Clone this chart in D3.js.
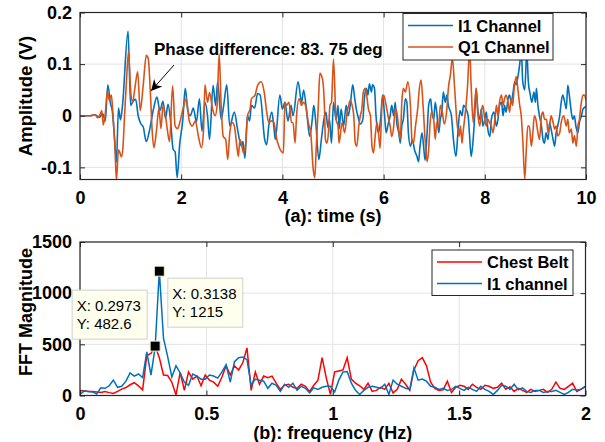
<!DOCTYPE html>
<html>
<head>
<meta charset="utf-8">
<script src="https://cdnjs.cloudflare.com/ajax/libs/d3/7.8.5/d3.min.js"></script>
<style>
body { margin: 0; background: #fff; }
svg { display: block; font-family: Arial, "Liberation Sans", sans-serif; }
</style>
</head>
<body>
<svg width="605" height="442"></svg>
<script>
// (a) time domain: [time (s), amplitude (V)]
var i1Samples = [[0,0],[0.2,0],[0.3,0.002],[0.38,-0.003],[0.45,0.004],[0.5,-0.01],[0.55,0.06],[0.6,0.025],[0.64,0.008],[0.68,-0.04],[0.72,-0.09],[0.76,0.015],[0.8,-0.008],[0.84,0.02],[0.95,0.164],[1.0,0.02],[1.05,0.028],[1.1,0.032],[1.15,0.0],[1.2,-0.015],[1.25,-0.022],[1.31,-0.05],[1.37,-0.03],[1.45,0.012],[1.52,0.036],[1.58,0.01],[1.64,0.028],[1.69,-0.005],[1.74,0.022],[1.79,-0.01],[1.84,-0.065],[1.88,-0.07],[1.92,-0.12],[1.97,-0.055],[2.03,-0.01],[2.08,0.053],[2.13,0.01],[2.18,0.0],[2.24,0.015],[2.3,-0.012],[2.36,0.033],[2.41,-0.03],[2.47,0.026],[2.52,0.0],[2.56,-0.046],[2.63,0.059],[2.68,0.02],[2.72,0.066],[2.79,-0.007],[2.84,0.02],[2.9,0.06],[2.96,-0.02],[3.05,0.007],[3.12,-0.03],[3.19,-0.059],[3.22,-0.05],[3.26,-0.082],[3.31,0.0],[3.35,-0.01],[3.39,0.02],[3.45,0.015],[3.51,0.043],[3.56,0.04],[3.65,-0.046],[3.69,-0.056],[3.73,-0.02],[3.79,0.007],[3.83,-0.02],[3.86,-0.046],[3.95,0.04],[4.0,0.013],[4.05,0.026],[4.11,-0.01],[4.17,0.02],[4.21,0.0],[4.31,0.066],[4.38,0.026],[4.42,0.05],[4.48,0.007],[4.54,-0.04],[4.59,-0.007],[4.62,0.02],[4.66,-0.013],[4.72,-0.085],[4.77,-0.046],[4.82,-0.007],[4.86,0.007],[4.9,-0.023],[4.93,-0.007],[4.97,-0.053],[5.01,0.026],[5.06,-0.007],[5.1,0.02],[5.12,-0.026],[5.16,0.013],[5.21,-0.02],[5.26,0.02],[5.3,0.0],[5.34,0.02],[5.39,0.06],[5.43,0.033],[5.46,0.013],[5.49,0.0],[5.54,-0.016],[5.59,-0.007],[5.62,0.033],[5.66,0.053],[5.69,0.04],[5.72,0.062],[5.76,0.046],[5.78,0.06],[5.82,0.053],[5.85,0.0],[5.9,-0.033],[5.94,-0.007],[5.98,0.04],[6.02,0.0],[6.05,-0.033],[6.09,-0.016],[6.13,0.0],[6.16,0.02],[6.2,0.0],[6.23,0.026],[6.26,-0.013],[6.3,-0.033],[6.33,-0.053],[6.36,-0.02],[6.39,-0.007],[6.43,0.033],[6.46,0.026],[6.49,-0.033],[6.53,-0.059],[6.57,-0.046],[6.61,-0.066],[6.66,-0.079],[6.69,-0.089],[6.72,-0.059],[6.76,-0.033],[6.79,-0.059],[6.82,-0.086],[6.86,-0.033],[6.89,0.02],[6.93,0.033],[6.95,0.013],[6.99,-0.007],[7.02,0.026],[7.05,0.007],[7.09,-0.033],[7.12,-0.007],[7.15,0.007],[7.18,0.046],[7.22,0.026],[7.25,0.04],[7.28,0.02],[7.34,0.0],[7.38,-0.046],[7.43,-0.079],[7.47,-0.03],[7.51,0.01],[7.55,0.0],[7.58,0.02],[7.62,0.015],[7.67,0.0],[7.7,-0.04],[7.73,-0.079],[7.77,-0.046],[7.8,0.0],[7.83,0.053],[7.86,0.013],[7.9,-0.007],[7.93,0.013],[7.96,-0.02],[8.0,-0.007],[8.03,0.007],[8.06,-0.026],[8.1,-0.04],[8.13,-0.007],[8.18,0.007],[8.23,-0.02],[8.26,-0.007],[8.29,0.02],[8.33,0.026],[8.36,0.0],[8.39,0.02],[8.42,0.007],[8.46,0.033],[8.49,0.04],[8.52,0.026],[8.56,0.046],[8.59,0.066],[8.62,0.06],[8.65,0.073],[8.69,0.1],[8.72,0.13],[8.75,0.066],[8.79,0.05],[8.83,0.125],[8.86,0.066],[8.9,0.04],[8.93,0.026],[8.97,0.046],[9.0,0.026],[9.02,0.053],[9.05,0.02],[9.08,0.0],[9.12,-0.02],[9.15,-0.046],[9.18,-0.053],[9.21,-0.033],[9.25,-0.046],[9.28,-0.013],[9.31,-0.026],[9.35,-0.046],[9.38,-0.059],[9.41,-0.033],[9.44,-0.02],[9.48,0.0],[9.51,0.026],[9.54,0.04],[9.58,0.026],[9.61,0.013],[9.64,0.059],[9.67,0.04],[9.71,0.007],[9.74,-0.007],[9.77,0.0],[9.8,-0.02],[9.84,-0.033],[9.87,-0.013],[9.91,0.0],[9.94,0.013],[9.97,0.016],[10,0.018]];

var q1Samples = [[0,0],[0.2,0],[0.3,0.002],[0.35,-0.004],[0.4,0.003],[0.43,0.01],[0.46,-0.018],[0.5,0.005],[0.54,0.047],[0.58,0.03],[0.62,0.04],[0.65,0.005],[0.69,-0.06],[0.72,-0.125],[0.76,-0.066],[0.79,-0.072],[0.82,-0.08],[0.85,-0.06],[0.88,0.0],[0.92,0.07],[0.96,0.125],[1.0,0.05],[1.04,0.026],[1.08,0.05],[1.14,0.085],[1.19,0.01],[1.25,0.06],[1.31,0.117],[1.35,0.11],[1.39,0.046],[1.43,-0.035],[1.46,-0.062],[1.51,-0.03],[1.56,0.015],[1.6,-0.025],[1.64,0.02],[1.69,0.0],[1.73,-0.03],[1.77,-0.05],[1.83,0.058],[1.88,-0.02],[1.93,-0.025],[1.98,-0.01],[2.04,0.015],[2.1,0.033],[2.16,-0.01],[2.22,-0.02],[2.28,-0.01],[2.34,-0.04],[2.4,-0.062],[2.44,-0.03],[2.47,0.06],[2.52,0.026],[2.56,0.045],[2.62,0.013],[2.67,0.0],[2.71,0.02],[2.75,0.12],[2.79,0.02],[2.83,-0.04],[2.88,-0.046],[2.92,-0.085],[2.96,-0.033],[3.01,-0.013],[3.05,-0.02],[3.1,-0.059],[3.13,-0.079],[3.16,-0.046],[3.19,-0.053],[3.23,-0.072],[3.27,-0.059],[3.31,0.0],[3.36,0.013],[3.39,0.033],[3.46,0.04],[3.51,0.059],[3.58,0.066],[3.64,0.046],[3.69,0.007],[3.73,-0.013],[3.79,-0.01],[3.83,-0.013],[3.89,-0.046],[3.93,-0.059],[4.02,-0.072],[4.05,0.026],[4.08,0.02],[4.13,0.026],[4.18,-0.013],[4.21,-0.013],[4.25,-0.053],[4.28,0.0],[4.33,0.033],[4.38,0.02],[4.41,0.026],[4.46,0.02],[4.51,-0.013],[4.56,-0.033],[4.61,-0.105],[4.64,-0.12],[4.67,-0.059],[4.71,0.02],[4.74,0.082],[4.79,0.072],[4.83,0.02],[4.85,-0.046],[4.88,-0.053],[4.91,-0.033],[4.94,0.02],[4.97,0.026],[5.01,0.11],[5.06,-0.007],[5.1,-0.02],[5.12,-0.053],[5.18,-0.013],[5.23,-0.033],[5.28,0.007],[5.31,0.02],[5.34,0.03],[5.37,0.023],[5.41,0.0],[5.44,-0.053],[5.47,-0.059],[5.51,-0.02],[5.54,0.0],[5.57,0.013],[5.6,0.046],[5.64,0.053],[5.67,0.036],[5.7,0.013],[5.74,0.0],[5.77,-0.059],[5.8,-0.072],[5.84,-0.033],[5.87,-0.013],[5.9,-0.033],[5.93,-0.063],[5.97,0.026],[6.0,0.04],[6.05,0.02],[6.1,-0.007],[6.13,-0.02],[6.16,-0.04],[6.2,-0.02],[6.23,0.013],[6.26,0.007],[6.3,-0.026],[6.33,-0.046],[6.36,0.026],[6.39,0.053],[6.43,0.046],[6.48,0.066],[6.53,0.02],[6.56,-0.046],[6.59,-0.053],[6.63,-0.02],[6.68,0.02],[6.7,0.046],[6.74,0.069],[6.78,0.02],[6.82,-0.046],[6.86,-0.089],[6.89,-0.066],[6.92,-0.013],[6.95,0.007],[6.99,-0.007],[7.02,-0.046],[7.05,-0.013],[7.09,-0.02],[7.12,0.02],[7.16,0.007],[7.2,-0.016],[7.25,0.013],[7.28,0.053],[7.32,0.079],[7.36,0.112],[7.4,0.059],[7.45,-0.013],[7.49,-0.04],[7.52,-0.02],[7.55,-0.053],[7.57,-0.033],[7.6,-0.007],[7.63,0.02],[7.66,0.059],[7.7,0.13],[7.73,0.059],[7.77,-0.013],[7.8,0.02],[7.83,0.053],[7.86,0.007],[7.9,-0.02],[7.93,0.007],[7.96,0.02],[8.0,-0.007],[8.03,-0.02],[8.06,-0.007],[8.09,-0.013],[8.13,-0.02],[8.16,-0.033],[8.2,-0.007],[8.23,0.02],[8.26,0.0],[8.29,0.026],[8.33,0.04],[8.36,0.02],[8.39,0.033],[8.42,0.04],[8.46,0.026],[8.49,0.007],[8.52,0.033],[8.55,0.02],[8.58,0.053],[8.62,0.076],[8.66,0.046],[8.69,0.02],[8.72,0.0],[8.75,-0.046],[8.79,-0.122],[8.82,-0.066],[8.85,-0.02],[8.88,-0.02],[8.92,-0.059],[8.95,-0.033],[8.98,0.0],[9.01,-0.007],[9.05,-0.033],[9.08,-0.046],[9.12,0.0],[9.15,0.007],[9.18,-0.007],[9.22,-0.007],[9.25,-0.033],[9.28,-0.02],[9.31,0.0],[9.35,-0.013],[9.38,-0.026],[9.41,-0.02],[9.44,-0.039],[9.48,-0.033],[9.51,-0.013],[9.56,0.0],[9.61,-0.02],[9.64,-0.007],[9.67,-0.033],[9.71,-0.026],[9.74,-0.053],[9.77,-0.039],[9.81,-0.059],[9.84,-0.02],[9.87,-0.007],[9.9,0.02],[9.94,0.04],[9.97,0.04],[10,0.03]];

// (b) FFT magnitude per frequency bin
var binWidth = 0.016516;
var chestBelt = [50,45,40,38,35,30,38,28,20,40,
  62,78,105,125,95,55,390,410,482.6,370,
  200,195,130,5,225,50,230,160,190,95,
  200,150,130,90,180,290,200,290,250,320,
  465,50,230,110,190,175,190,120,60,100,
  110,80,70,110,90,40,100,150,370,170,
  10,230,240,250,370,160,120,95,60,120,
  40,50,80,60,120,25,60,160,110,50,
  250,340,370,290,130,70,50,55,140,30,
  80,100,90,60,110,80,60,100,90,70,
  80,120,60,85,40,70,50,30,60,40,
  50,60,30,60,130,70,60,90,120,40,60,90];
var i1Fft = [10,45,40,35,15,75,70,95,150,80,
  90,140,220,190,210,175,427,200,470,1215,
  560,380,180,290,220,130,100,210,190,160,
  160,200,190,170,230,300,130,330,370,375,
  350,100,160,150,140,70,120,100,40,110,
  80,120,50,90,70,25,75,60,80,90,
  90,35,150,230,235,120,50,10,50,80,
  90,80,70,110,10,150,110,90,70,60,
  270,150,160,140,90,80,60,70,50,60,
  90,70,50,80,60,40,90,60,40,10,
  50,100,90,60,110,55,75,40,30,50,
  50,30,40,40,50,30,10,30,60,55,60,85];
var freqs = chestBelt.map(function(d, i) { return i * binWidth; });

var dataTips = [{f: 0.2973, mag: 482.6}, {f: 0.3138, mag: 1215}];

var timeTicks = [0, 2, 4, 6, 8, 10],
    ampTicks = [-0.1, 0, 0.1, 0.2],
    freqTicks = [0, 0.5, 1, 1.5, 2],
    magTicks = [0, 500, 1000, 1500];

var svg = d3.select("svg"),
    width = +svg.attr("width"),
    height = +svg.attr("height");

svg.append("rect").attr("width", width).attr("height", height).attr("fill", "#fff");

var topBox = {left: 80, right: 586, top: 12.5, bottom: 179.5},
    botBox = {left: 80, right: 585.5, top: 242, bottom: 395.5};

var xTime = d3.scaleLinear().domain([0, 10]).range([topBox.left, topBox.right]),
    yAmp = d3.scaleLinear().domain([-0.1235, 0.2]).range([topBox.bottom, topBox.top]),
    xFreq = d3.scaleLinear().domain([0, 2]).range([botBox.left, botBox.right]),
    yMag = d3.scaleLinear().domain([0, 1500]).range([botBox.bottom, botBox.top]);

var axisColor = "#262626",
    blue = "#0072BD",
    orange = "#D95319",
    red = "#FF0000";

function drawGrid(box, x, y, xTicks, yTicks) {
    var g = svg.append("g").attr("class", "grid");
    g.selectAll(".vgrid").data(xTicks).enter().append("line")
        .attr("x1", function(d) { return x(d); })
        .attr("x2", function(d) { return x(d); })
        .attr("y1", box.top).attr("y2", box.bottom)
        .attr("stroke", "#e3e3e3").attr("stroke-width", 1);
    g.selectAll(".hgrid").data(yTicks).enter().append("line")
        .attr("y1", function(d) { return y(d); })
        .attr("y2", function(d) { return y(d); })
        .attr("x1", box.left).attr("x2", box.right)
        .attr("stroke", "#e3e3e3").attr("stroke-width", 1);
}

function drawAxes(box, x, y, xTicks, yTicks) {
    var fmt = function(d) { return String(d); };
    var g = svg.append("g").attr("class", "axes");
    g.append("g").attr("transform", "translate(0," + box.bottom + ")")
        .call(d3.axisBottom(x).tickValues(xTicks).tickSizeInner(-5).tickSizeOuter(0).tickPadding(12).tickFormat(fmt));
    g.append("g").attr("transform", "translate(" + box.left + ",0)")
        .call(d3.axisLeft(y).tickValues(yTicks).tickSizeInner(-5).tickSizeOuter(0).tickPadding(8).tickFormat(fmt));
    g.append("g").attr("transform", "translate(0," + box.top + ")")
        .call(d3.axisTop(x).tickValues(xTicks).tickSizeInner(-5).tickSizeOuter(0).tickFormat(""));
    g.append("g").attr("transform", "translate(" + box.right + ",0)")
        .call(d3.axisRight(y).tickValues(yTicks).tickSizeInner(-5).tickSizeOuter(0).tickFormat(""));
    g.selectAll(".domain").remove();
    g.selectAll(".tick line").attr("stroke", axisColor);
    g.selectAll(".tick text")
        .attr("fill", "#000")
        .style("font-size", "18px")
        .style("font-weight", "bold")
        .style("font-family", "Arial, 'Liberation Sans', sans-serif");
    g.append("rect")
        .attr("x", box.left).attr("y", box.top)
        .attr("width", box.right - box.left).attr("height", box.bottom - box.top)
        .attr("fill", "none").attr("stroke", axisColor).attr("stroke-width", 1.2);
}

function clipFor(id, box) {
    svg.append("clipPath").attr("id", id).append("rect")
        .attr("x", box.left).attr("y", box.top)
        .attr("width", box.right - box.left).attr("height", box.bottom - box.top);
    return "url(#" + id + ")";
}

function drawLegend(x0, y0, w, h, items) {
    var g = svg.append("g").attr("class", "legend");
    g.append("rect").attr("x", x0).attr("y", y0).attr("width", w).attr("height", h)
        .attr("fill", "#fff").attr("stroke", axisColor).attr("stroke-width", 1);
    items.forEach(function(it, i) {
        var cy = y0 + 12 + i * 21.5;
        g.append("line").attr("x1", x0 + 5).attr("x2", x0 + 50)
            .attr("y1", cy).attr("y2", cy)
            .attr("stroke", it.color).attr("stroke-width", 1.7);
        g.append("text").attr("x", x0 + 55).attr("y", cy + 6)
            .style("font-size", "16.5px").style("font-weight", "bold")
            .attr("fill", "#000").text(it.label);
    });
}

// ---------- (a) time domain ----------
drawGrid(topBox, xTime, yAmp, timeTicks, ampTicks);

var timeLine = d3.line()
    .x(function(d) { return xTime(d[0]); })
    .y(function(d) { return yAmp(d[1]); })
    .curve(d3.curveMonotoneX);

var topClip = clipFor("clipTop", topBox);
svg.append("path").datum(i1Samples)
    .attr("d", timeLine).attr("clip-path", topClip)
    .attr("fill", "none").attr("stroke", blue).attr("stroke-width", 1.6);
svg.append("path").datum(q1Samples)
    .attr("d", timeLine).attr("clip-path", topClip)
    .attr("fill", "none").attr("stroke", orange).attr("stroke-width", 1.6);

drawAxes(topBox, xTime, yAmp, timeTicks, ampTicks);

svg.append("text").attr("x", (topBox.left + topBox.right) / 2).attr("y", 222)
    .attr("text-anchor", "middle").style("font-size", "18px").style("font-weight", "bold")
    .text("(a): time (s)");
svg.append("text").attr("transform", "translate(31.5," + ((topBox.top + topBox.bottom) / 2) + ") rotate(-90)")
    .attr("text-anchor", "middle").style("font-size", "18.5px").style("font-weight", "bold")
    .text("Amplitude (V)");

// phase annotation
svg.append("defs").append("marker")
    .attr("id", "arrowHead").attr("viewBox", "0 0 10 10")
    .attr("refX", 10).attr("refY", 5)
    .attr("markerWidth", 15).attr("markerHeight", 11)
    .attr("markerUnits", "userSpaceOnUse")
    .attr("orient", "auto")
    .append("path").attr("d", "M0,0 L10,5 L0,10 L3,5 Z").attr("fill", "#000");
svg.append("line").attr("x1", 174).attr("y1", 65).attr("x2", 151).attr("y2", 91)
    .attr("stroke", "#000").attr("stroke-width", 1).attr("marker-end", "url(#arrowHead)");
svg.append("text").attr("x", 154).attr("y", 54.5)
    .style("font-size", "17px").style("font-weight", "bold")
    .text("Phase difference: 83. 75 deg");

drawLegend(403, 13.5, 150, 46.5, [{label: "I1 Channel", color: blue}, {label: "Q1 Channel", color: orange}]);

// ---------- (b) FFT ----------
drawGrid(botBox, xFreq, yMag, freqTicks, magTicks);

var fftLine = function(values) {
    return d3.line()
        .x(function(d, i) { return xFreq(freqs[i]); })
        .y(function(d) { return yMag(d); })(values);
};

var botClip = clipFor("clipBot", botBox);
svg.append("path").attr("d", fftLine(chestBelt)).attr("clip-path", botClip)
    .attr("fill", "none").attr("stroke", red).attr("stroke-width", 1.5);
svg.append("path").attr("d", fftLine(i1Fft)).attr("clip-path", botClip)
    .attr("fill", "none").attr("stroke", blue).attr("stroke-width", 1.5);

drawAxes(botBox, xFreq, yMag, freqTicks, magTicks);

svg.append("text").attr("x", (botBox.left + botBox.right) / 2).attr("y", 438.5)
    .attr("text-anchor", "middle").style("font-size", "18px").style("font-weight", "bold")
    .text("(b): frequency (Hz)");
svg.append("text").attr("transform", "translate(31.5,312) rotate(-90)")
    .attr("text-anchor", "middle").style("font-size", "18px").style("font-weight", "bold")
    .text("FFT Magnitude");

drawLegend(432, 250, 141, 45.5, [{label: "Chest Belt", color: red}, {label: "I1 channel", color: blue}]);

// data tips
var tipG = svg.append("g").attr("class", "datatips");
dataTips.forEach(function(d, i) {
    var px = xFreq(d.f), py = yMag(d.mag);
    var bx = i === 0 ? px - 8 - 75 : px + 8.5,
        by = i === 0 ? py - 7 - 49 : py + 7;
    tipG.append("rect").attr("x", bx).attr("y", by).attr("width", 75).attr("height", 49)
        .attr("fill", "#ffffee").attr("stroke", "#cfcfcf").attr("stroke-width", 1);
    tipG.append("text").attr("x", bx + 4.5).attr("y", by + 20.5)
        .style("font-size", "15px").attr("fill", "#000").text("X: " + d.f);
    tipG.append("text").attr("x", bx + 4.5).attr("y", by + 39)
        .style("font-size", "15px").attr("fill", "#000").text("Y: " + d.mag);
    tipG.append("rect").attr("x", px - 5).attr("y", py - 5).attr("width", 10).attr("height", 10)
        .attr("fill", "#000").attr("stroke", "#f4f0c8").attr("stroke-width", 1);
});
</script>
</body>
</html>
